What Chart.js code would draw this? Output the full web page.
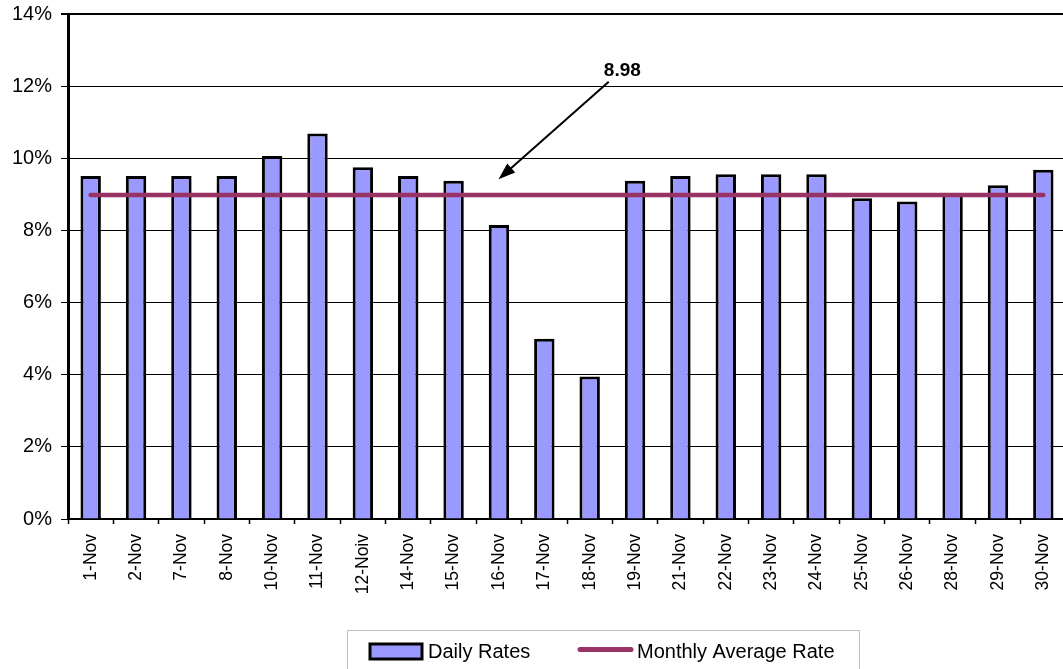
<!DOCTYPE html>
<html>
<head>
<meta charset="utf-8">
<script src="https://cdn.jsdelivr.net/npm/chart.js@4.4.1/dist/chart.umd.min.js"></script>
<style>
  html, body { margin: 0; padding: 0; background: #fff; overflow: hidden; }
  canvas { display: block; }
</style>
</head>
<body>
<canvas id="rateChart" width="1066" height="669"></canvas>
<script>
const days = ['1-Nov', '2-Nov', '7-Nov', '8-Nov', '10-Nov', '11-Nov', '12-Noiv', '14-Nov', '15-Nov', '16-Nov', '17-Nov',
    '18-Nov', '19-Nov', '21-Nov', '22-Nov', '23-Nov', '24-Nov', '25-Nov', '26-Nov', '28-Nov', '29-Nov', '30-Nov'];
const dailyRates = [9.51, 9.51, 9.51, 9.51, 10.06, 10.69, 9.75, 9.51, 9.38, 8.15, 5.00,
    3.95, 9.38, 9.51, 9.56, 9.56, 9.56, 8.89, 8.80, 9.00, 9.25, 9.68];
const monthlyAverage = [8.98, 8.98, 8.98, 8.98, 8.98, 8.98, 8.98, 8.98, 8.98, 8.98, 8.98,
    8.98, 8.98, 8.98, 8.98, 8.98, 8.98, 8.98, 8.98, 8.98, 8.98, 8.98];
const averageNote = '8.98';
// arrow from the note down to the line, in [category index, value]
const arrowTail = [11.42, 12.12];
const arrowTip = [8.99, 9.42];
const notePos = [11.72, 12.43];

const FONT = "'Liberation Sans', Arial, sans-serif";
const barColor = '#9999FF';
const lineColor = '#993366';

// arrow + "8.98" text
const notePlugin = {
    id: 'note',
    afterDatasetsDraw(chart) {
        const c = chart.ctx, x = chart.scales.x, y = chart.scales.y;
        const x1 = x.getPixelForValue(arrowTail[0]), y1 = y.getPixelForValue(arrowTail[1]);
        const x2 = x.getPixelForValue(arrowTip[0]), y2 = y.getPixelForValue(arrowTip[1]);
        const ang = Math.atan2(y2 - y1, x2 - x1);
        const head = 17, half = 6;
        c.save();
        c.strokeStyle = '#000';
        c.fillStyle = '#000';
        c.lineWidth = 2;
        c.beginPath();
        c.moveTo(x1, y1);
        c.lineTo(x2 - Math.cos(ang) * head * 0.8, y2 - Math.sin(ang) * head * 0.8);
        c.stroke();
        c.beginPath();
        c.moveTo(x2, y2);
        c.lineTo(x2 - Math.cos(ang) * head + Math.sin(ang) * half, y2 - Math.sin(ang) * head - Math.cos(ang) * half);
        c.lineTo(x2 - Math.cos(ang) * head - Math.sin(ang) * half, y2 - Math.sin(ang) * head + Math.cos(ang) * half);
        c.closePath();
        c.fill();
        c.font = 'bold 19px ' + FONT;
        c.textAlign = 'center';
        c.textBaseline = 'middle';
        c.fillText(averageNote, x.getPixelForValue(notePos[0]), y.getPixelForValue(notePos[1]));
        c.restore();
    }
};

// legend box at the bottom
const legendPlugin = {
    id: 'boxLegend',
    afterDraw(chart) {
        const c = chart.ctx;
        c.save();
        c.strokeStyle = '#c0c0c0';
        c.lineWidth = 1;
        c.strokeRect(347.5, 630.5, 512, 60);
        c.fillStyle = barColor;
        c.fillRect(370, 644, 52, 15);
        c.strokeStyle = '#000';
        c.lineWidth = 3;
        c.strokeRect(370, 644, 52, 15);
        c.strokeStyle = lineColor;
        c.lineWidth = 5;
        c.lineCap = 'round';
        c.beginPath();
        c.moveTo(580, 649.5);
        c.lineTo(631, 649.5);
        c.stroke();
        c.fillStyle = '#000';
        c.font = '20px ' + FONT;
        c.textBaseline = 'middle';
        c.textAlign = 'left';
        c.fillText(chart.data.datasets[0].label, 428, 652);
        c.fillText(chart.data.datasets[1].label, 637, 652);
        c.restore();
    }
};

new Chart(document.getElementById('rateChart'), {
    type: 'bar',
    data: {
        labels: days,
        datasets: [{
            label: 'Daily Rates',
            data: dailyRates,
            backgroundColor: barColor,
            borderColor: '#000',
            borderWidth: 3,
            barPercentage: 0.45,
            categoryPercentage: 1,
            order: 2
        }, {
            type: 'line',
            label: 'Monthly Average Rate',
            data: monthlyAverage,
            borderColor: lineColor,
            borderWidth: 4.5,
            borderCapStyle: 'round',
            pointRadius: 0,
            fill: false,
            order: 1
        }]
    },
    options: {
        responsive: false,
        animation: false,
        devicePixelRatio: 1,
        layout: { padding: { top: 14, right: 0, bottom: 0, left: 0 } },
        plugins: {
            legend: { display: false },
            tooltip: { enabled: false }
        },
        scales: {
            x: {
                offset: true,
                grid: { display: true, drawOnChartArea: false, offset: true, tickLength: 5, tickColor: '#000', tickWidth: 1.5 },
                border: { display: true, color: '#000', width: 2 },
                ticks: {
                    color: '#000', font: { family: FONT, size: 17.5 },
                    minRotation: 90, maxRotation: 90, padding: 10, autoSkip: false
                },
                afterFit(scale) {
                    scale.height = 150;
                    scale.paddingLeft = 0;
                    scale.paddingRight = 0;
                }
            },
            y: {
                min: 0, max: 14,
                grid: {
                    color: '#000',
                    lineWidth: (ctx) => ctx.tick && ctx.tick.value === 14 ? 2 : 1,
                    tickLength: 7, tickColor: '#000'
                },
                border: { display: true, color: '#000', width: 3 },
                ticks: {
                    stepSize: 2, color: '#000', padding: 9,
                    font: { family: FONT, size: 20 },
                    callback: (v) => v + '%'
                },
                afterFit(scale) {
                    scale.width = 68;
                    scale.paddingTop = 0;
                    scale.paddingBottom = 0;
                }
            }
        }
    },
    plugins: [notePlugin, legendPlugin]
});
</script>
</body>
</html>
